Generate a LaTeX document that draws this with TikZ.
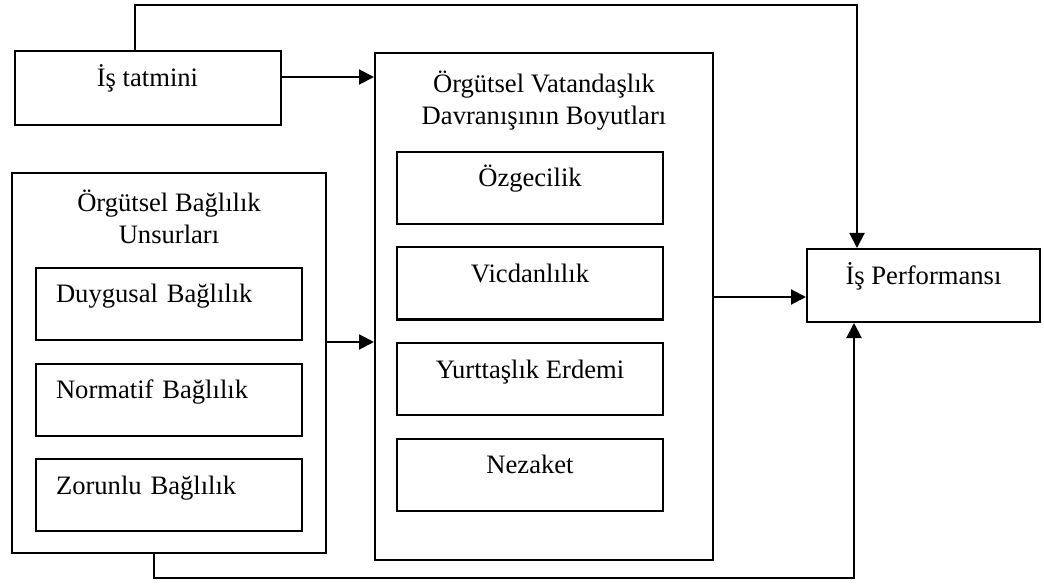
\documentclass[tikz,border=0pt]{standalone}
\usepackage{fontspec}
\setmainfont{Liberation Serif}
\usetikzlibrary{positioning}
\usetikzlibrary{arrows.meta}

\begin{document}
\begin{tikzpicture}
 [ x=0.5pt
 , y=-0.5pt
 , every node/.style={font=\fontsize{13.3}{16}\selectfont}
 , box/.style={draw, line width=1pt, minimum width=133pt, minimum height=36pt,
     text height=9pt, text depth=10pt, inner sep=0pt}
 , leftbox/.style={box, text width=113pt, align=left, inner xsep=10pt}
 , frame/.style={draw, line width=1pt, inner sep=0pt}
 , title/.style={align=center, inner sep=0pt}
 , arr/.style={line width=1pt, -{Triangle[length=7.5pt,width=7.5pt]}}
 ]
  \useasboundingbox (0,0) rectangle (1044,588);

  % left column
  \node [box, minimum height=37pt] (tatmin) at (147.5,88) {İş tatmini};
  \node [frame, minimum width=157pt, minimum height=190pt] (obu) at (169,363) {};
  \node [title, below=9pt of obu.north] (obu-t) {Örgütsel Bağlılık\\Unsurları};
  \node [leftbox] (duygu) at (169,304) {Duygusal Bağlılık};
  \node [leftbox] (norm) at (169,399.5) {Normatif Bağlılık};
  \node [leftbox] (zor) at (169,495) {Zorunlu Bağlılık};

  % middle column
  \node [frame, minimum width=169pt, minimum height=253.5pt] (ovd) at (544,306.5) {};
  \node [title, below=9.5pt of ovd.north] (ovd-t) {Örgütsel Vatandaşlık\\Davranışının Boyutları};
  \node [box] (ozg) at (530,188) {Özgecilik};
  \node [box] (vic) at (530,283.5) {Vicdanlılık};
  \node [box] (yurt) at (530,379) {Yurttaşlık Erdemi};
  \node [box] (nez) at (530,474.5) {Nezaket};

  % right
  \node [box, minimum width=116.5pt, minimum height=36.5pt] (perf) at (923.5,285.5) {İş Performansı};

  % connectors
  \coordinate (t1) at ([yshift=5.5pt]tatmin.east);
  \draw [arr] (t1) -- (t1 -| ovd.west);
  \coordinate (b1) at ([yshift=10.5pt]obu.east);
  \draw [arr] (b1) -- (b1 -| ovd.west);
  \coordinate (o1) at ([yshift=4.75pt]ovd.east);
  \draw [arr] (o1) -- (o1 -| perf.west);

  \coordinate (toprow) at (0,5);
  \coordinate (botrow) at (0,578);
  \coordinate (t2) at ([xshift=-6.25pt]tatmin.north);
  \coordinate (p1) at ([xshift=-33.25pt]perf.north);
  \draw [arr] (t2) -- (t2 |- toprow) -| (p1);
  \coordinate (b2) at ([xshift=-7.5pt]obu.south);
  \coordinate (p2) at ([xshift=-34.75pt]perf.south);
  \draw [arr] (b2) -- (b2 |- botrow) -| (p2);
\end{tikzpicture}
\end{document}
